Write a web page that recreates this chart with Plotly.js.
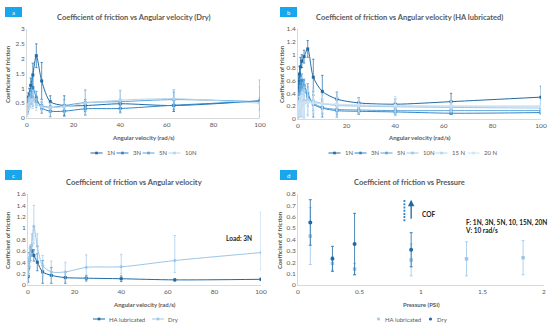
<!DOCTYPE html>
<html>
<head>
<meta charset="utf-8">
<script src="https://cdn.plot.ly/plotly-3.0.1.min.js"></script>
<style>
html,body{margin:0;padding:0;background:#fff;}
#chart{width:550px;height:326px;}
</style>
</head>
<body>
<div id="chart"></div>
<script>
// ---------- DATA ----------
const omega = [0.1, 0.25, 0.63, 1, 1.6, 2.5, 4, 6.3, 10, 16, 25, 40, 63, 100];

// Panel a: Dry
const dryNames = ['1N', '3N', '5N', '10N'];
const dry1N  = [0.40, 0.55, 0.70, 0.80, 1.10, 1.45, 2.10, 1.25, 0.55, 0.42, 0.42, 0.48, 0.42, 0.58];
const dry1Nerr = [0.05, 0.10, 0.15, 0.20, 0.25, 0.40, 0.40, 0.62, 0.20, 0.33, 0.20, 0.15, 0.20, 0.10];
const dry3N  = [0.20, 0.35, 0.45, 0.55, 0.70, 1.03, 0.68, 0.34, 0.23, 0.23, 0.31, 0.32, 0.43, 0.57];
const dry3NerrPlus  = [0.10, 0.15, 0.20, 0.15, 0.20, 0.37, 0.22, 0.18, 0.19, 0.17, 0.22, 0.22, 0.44, 0.71];
const dry3NerrMinus = [0.05, 0.10, 0.15, 0.15, 0.20, 0.30, 0.22, 0.18, 0.19, 0.17, 0.20, 0.12, 0.21, 0.30];
const dry5N  = [0.30, 0.45, 0.60, 0.65, 0.70, 0.65, 0.55, 0.42, 0.36, 0.42, 0.52, 0.55, 0.62, 0.55];
const dry5Nerr = [0.10, 0.15, 0.15, 0.20, 0.25, 0.25, 0.20, 0.15, 0.15, 0.20, 0.43, 0.38, 0.33, 0.50];
const dry10N = [0.15, 0.30, 0.45, 0.50, 0.60, 0.62, 0.45, 0.38, 0.35, 0.38, 0.50, 0.60, 0.65, 0.50];
const dry10Nerr = [0.10, 0.15, 0.20, 0.20, 0.25, 0.30, 0.20, 0.15, 0.15, 0.20, 0.40, 0.33, 0.30, 0.75];

// Panel b: HA lubricated
const haNames = ['1N', '3N', '5N', '10N', '15 N', '20 N'];
const ha1N  = [0.35, 0.58, 0.70, 0.81, 0.90, 0.97, 1.09, 0.65, 0.43, 0.31, 0.25, 0.23, 0.27, 0.34];
const ha1Nerr = [0.10, 0.12, 0.12, 0.15, 0.10, 0.10, 0.13, 0.28, 0.25, 0.11, 0.08, 0.08, 0.13, 0.17];
const ha3N  = [0.15, 0.30, 0.45, 0.55, 0.60, 0.52, 0.40, 0.23, 0.17, 0.13, 0.12, 0.11, 0.09, 0.10];
const ha3Nerr = [0.10, 0.10, 0.12, 0.12, 0.10, 0.10, 0.15, 0.20, 0.14, 0.10, 0.05, 0.05, 0.02, 0.02];
const ha5N  = [0.20, 0.30, 0.40, 0.45, 0.50, 0.45, 0.35, 0.25, 0.18, 0.15, 0.14, 0.13, 0.13, 0.13];
const ha5Nerr = [0.10, 0.10, 0.12, 0.12, 0.12, 0.15, 0.15, 0.12, 0.10, 0.08, 0.06, 0.06, 0.05, 0.05];
const ha10N = [0.10, 0.15, 0.20, 0.22, 0.25, 0.28, 0.30, 0.28, 0.24, 0.21, 0.20, 0.19, 0.18, 0.17];
const ha10Nerr = [0.10, 0.12, 0.15, 0.18, 0.20, 0.25, 0.25, 0.20, 0.15, 0.12, 0.12, 0.12, 0.08, 0.08];
const ha15N = [0.12, 0.15, 0.18, 0.20, 0.22, 0.25, 0.27, 0.26, 0.24, 0.22, 0.21, 0.20, 0.20, 0.20];
const ha15Nerr = [0.10, 0.12, 0.15, 0.15, 0.20, 0.25, 0.20, 0.18, 0.15, 0.20, 0.11, 0.15, 0.08, 0.10];
const ha20N = [0.15, 0.17, 0.20, 0.22, 0.24, 0.25, 0.26, 0.25, 0.24, 0.23, 0.22, 0.21, 0.20, 0.20];
const ha20Nerr = [0.10, 0.12, 0.15, 0.15, 0.18, 0.20, 0.18, 0.15, 0.12, 0.10, 0.10, 0.10, 0.08, 0.08];

// Panel c: Load 3N (HA vs Dry) -> ha3N / dry3N
const cNames = ['HA lubricated', 'Dry'];

// Panel d: Pressure
const dNames = ['HA lubricated', 'Dry'];
const pressHA  = [0.10, 0.28, 0.46, 0.92, 1.37, 1.83];
const cofHA    = [0.43, 0.19, 0.14, 0.22, 0.23, 0.24];
const cofHAerr = [0.25, 0.06, 0.05, 0.14, 0.15, 0.15];
const pressDry  = [0.10, 0.28, 0.46, 0.92];
const cofDry    = [0.55, 0.23, 0.36, 0.31];
const cofDryErr = [0.20, 0.11, 0.27, 0.15];

// ---------- STYLE ----------
const FONT = 'Lato, "Open Sans", sans-serif';
const GRAY = '#595959';
const c1 = '#1f6aa5', c2 = '#2e86c8', c3 = '#5ea3d8', c4 = '#9cc6e8', c5 = '#b4d4ee', c6 = '#cde2f4';

function line(x, y, eplus, eminus, name, color, xa, ya, sym) {
  return {
    type: 'scatter', mode: 'lines+markers', x: x, y: y, name: name,
    xaxis: xa, yaxis: ya, showlegend: false,
    line: {color: color, width: 1, shape: 'spline', smoothing: 0.8},
    marker: {color: color, size: 3, symbol: sym || 'square'},
    error_y: {type: 'data', array: eplus, arrayminus: eminus || eplus, symmetric: false,
              color: color, thickness: 0.7, width: 1.2}
  };
}

const dryCols = [c1, c2, c3, c5];
const haCols = [c1, c2, c3, c4, c5, c6];
const cCols = [c1, c4];
const dCols = [c4, c1];

const traces = [
  line(omega, dry1N, dry1Nerr, null, dryNames[0], dryCols[0], 'x', 'y'),
  line(omega, dry3N, dry3NerrPlus, dry3NerrMinus, dryNames[1], dryCols[1], 'x', 'y'),
  line(omega, dry5N, dry5Nerr, null, dryNames[2], dryCols[2], 'x', 'y'),
  line(omega, dry10N, dry10Nerr, null, dryNames[3], dryCols[3], 'x', 'y'),

  line(omega, ha1N, ha1Nerr, null, haNames[0], haCols[0], 'x2', 'y2'),
  line(omega, ha3N, ha3Nerr, null, haNames[1], haCols[1], 'x2', 'y2'),
  line(omega, ha5N, ha5Nerr, null, haNames[2], haCols[2], 'x2', 'y2'),
  line(omega, ha10N, ha10Nerr, null, haNames[3], haCols[3], 'x2', 'y2'),
  line(omega, ha15N, ha15Nerr, null, haNames[4], haCols[4], 'x2', 'y2'),
  line(omega, ha20N, ha20Nerr, null, haNames[5], haCols[5], 'x2', 'y2'),

  line(omega, ha3N, ha3Nerr, null, cNames[0], cCols[0], 'x3', 'y3'),
  line(omega, dry3N, dry3NerrPlus, dry3NerrMinus, cNames[1], cCols[1], 'x3', 'y3', 'diamond'),

  {type: 'scatter', mode: 'markers', x: pressHA, y: cofHA, name: dNames[0],
   xaxis: 'x4', yaxis: 'y4', showlegend: false,
   marker: {color: dCols[0], size: 3.5, symbol: 'square'},
   error_y: {type: 'data', array: cofHAerr, color: dCols[0], thickness: 0.8, width: 1.5}},
  {type: 'scatter', mode: 'markers', x: pressDry, y: cofDry, name: dNames[1],
   xaxis: 'x4', yaxis: 'y4', showlegend: false,
   marker: {color: dCols[1], size: 4, symbol: 'circle'},
   error_y: {type: 'data', array: cofDryErr, color: dCols[1], thickness: 0.8, width: 1.5}}
];

const W = 550, H = 326;
const px = v => v / W, py = v => 1 - v / H;

function ax(domain, range, dtick, extra) {
  return Object.assign({
    domain: domain, range: range, dtick: dtick, tick0: 0,
    showgrid: false, zeroline: false, showline: true, linecolor: '#d9d9d9', linewidth: 1,
    ticks: '', tickfont: {family: FONT, size: 6.5, color: GRAY}, fixedrange: true
  }, extra || {});
}

function ann(text, x, y, size, opts) {
  return Object.assign({text: text, x: x, y: y, xref: 'paper', yref: 'paper', showarrow: false,
    font: {family: FONT, size: size, color: GRAY, weight: 'bold'}, xanchor: 'center', yanchor: 'middle'}, opts || {});
}

const annotations = [
  ann('Coefficient of friction vs Angular velocity (Dry)', px(134), py(17), 7.5),
  ann('Coefficient of friction vs Angular velocity (HA lubricated)', px(409), py(17), 7.5),
  ann('Coefficient of friction vs Angular velocity', px(134), py(182), 7.5),
  ann('Coefficient of friction vs Pressure', px(409), py(182), 7.5),

  ann('Angular velocity (rad/s)', px(143), py(137), 6),
  ann('Angular velocity (rad/s)', px(419), py(137), 6),
  ann('Angular velocity (rad/s)', px(144), py(304), 6),
  ann('Pressure (PSI)', px(421), py(304), 6),

  ann('Coefficient of friction', px(7), py(74), 6, {textangle: -90}),
  ann('Coefficient of friction', px(281), py(74), 6, {textangle: -90}),
  ann('Coefficient of friction', px(7), py(240), 6, {textangle: -90}),
  ann('Coefficient of friction', px(279), py(240), 6, {textangle: -90}),

  ann('a', px(13.5), py(12), 6, {font: {family: FONT, size: 6, color: '#fff'}}),
  ann('b', px(288.5), py(12), 6, {font: {family: FONT, size: 6, color: '#fff'}}),
  ann('c', px(13.5), py(175), 6, {font: {family: FONT, size: 6, color: '#fff'}}),
  ann('d', px(288.5), py(175), 6, {font: {family: FONT, size: 6, color: '#fff'}}),

  {text: 'Load: 3N', x: 84, y: 0.81, xref: 'x3', yref: 'y3', showarrow: false, xanchor: 'left',
   font: {family: FONT, size: 6.5, color: '#222', weight: 'bold'}},
  {text: 'COF', x: 0.99, y: 0.62, xref: 'x4', yref: 'y4', showarrow: false, xanchor: 'left',
   font: {family: FONT, size: 6.5, color: '#222', weight: 'bold'}},
  {text: 'F: 1N, 3N, 5N, 10, 15N, 20N<br>V: 10 rad/s', x: 1.34, y: 0.515, xref: 'x4', yref: 'y4',
   showarrow: false, xanchor: 'left', align: 'left',
   font: {family: FONT, size: 6.5, color: '#222', weight: 'bold'}},
  {text: '', x: 0.92, y: 0.75, ax: 0.92, ay: 0.57, xref: 'x4', yref: 'y4', axref: 'x4', ayref: 'y4',
   showarrow: true, arrowhead: 2, arrowsize: 1, arrowwidth: 1.3, arrowcolor: c1}
];

const shapes = [
  {type: 'rect', xref: 'paper', yref: 'paper', x0: px(5), x1: px(22), y0: py(7), y1: py(17), fillcolor: '#18a6ec', line: {width: 0}},
  {type: 'rect', xref: 'paper', yref: 'paper', x0: px(280), x1: px(297), y0: py(7), y1: py(17), fillcolor: '#18a6ec', line: {width: 0}},
  {type: 'rect', xref: 'paper', yref: 'paper', x0: px(5), x1: px(22), y0: py(170), y1: py(180), fillcolor: '#18a6ec', line: {width: 0}},
  {type: 'rect', xref: 'paper', yref: 'paper', x0: px(280), x1: px(297), y0: py(170), y1: py(180), fillcolor: '#18a6ec', line: {width: 0}},
  {type: 'line', xref: 'x4', yref: 'y4', x0: 0.865, x1: 0.865, y0: 0.56, y1: 0.75, line: {color: c2, width: 1.8, dash: '2px,1.2px'}}
];

// compact Excel-style legends built from the series names & colours
const CHARW = 3.0;
function legend(names, colors, cx, cy, withLine, syms) {
  const symW = withLine ? 12 : 5, gap = 2, sep = 6;
  const widths = names.map(n => symW + gap + n.length * CHARW);
  const total = widths.reduce((a, b) => a + b, 0) + sep * (names.length - 1);
  let x = cx - total / 2;
  names.forEach((n, i) => {
    const col = colors[i];
    const mid = x + symW / 2;
    if (withLine) {
      shapes.push({type: 'line', xref: 'paper', yref: 'paper', x0: px(x), x1: px(x + symW),
        y0: py(cy), y1: py(cy), line: {color: col, width: 1}});
    }
    const sym = syms ? syms[i] : 'square';
    const r = sym === 'circle' ? 1.6 : 1.3;
    shapes.push({type: sym === 'circle' ? 'circle' : 'rect', xref: 'paper', yref: 'paper',
      x0: px(mid - r), x1: px(mid + r), y0: py(cy + r), y1: py(cy - r),
      fillcolor: col, line: {width: 0}});
    annotations.push({text: n, x: px(x + symW + gap), y: py(cy), xref: 'paper', yref: 'paper',
      showarrow: false, xanchor: 'left', yanchor: 'middle',
      font: {family: FONT, size: 6, color: GRAY}});
    x += widths[i] + sep;
  });
}
legend(dryNames, dryCols, 141, 153, true);
legend(haNames, haCols, 411, 153, true);
legend(cNames, cCols, 134, 319, true);
legend(dNames, dCols, 410, 319, false, ['square', 'circle']);

const layout = {
  width: W, height: H, margin: {l: 0, r: 0, t: 0, b: 0},
  paper_bgcolor: '#fff', plot_bgcolor: 'rgba(0,0,0,0)',
  font: {family: FONT, color: GRAY},
  xaxis:  ax([px(27), px(260)], [0, 100], 20, {anchor: 'y'}),
  yaxis:  ax([py(118), py(29)], [0, 3], 0.5, {anchor: 'x'}),
  xaxis2: ax([px(298), px(541)], [0, 100], 20, {anchor: 'y2'}),
  yaxis2: ax([py(119), py(29)], [0, 1.4], 0.2, {anchor: 'x2'}),
  xaxis3: ax([px(28), px(261)], [0, 100], 20, {anchor: 'y3'}),
  yaxis3: ax([py(285), py(194)], [0, 1.6], 0.2, {anchor: 'x3'}),
  xaxis4: ax([px(298), px(544)], [0, 2], 0.5, {anchor: 'y4'}),
  yaxis4: ax([py(285), py(194)], [0, 0.8], 0.1, {anchor: 'x4'}),
  showlegend: false,
  annotations: annotations,
  shapes: shapes
};

Plotly.newPlot('chart', traces, layout, {displayModeBar: false, staticPlot: true});
</script>
</body>
</html>
